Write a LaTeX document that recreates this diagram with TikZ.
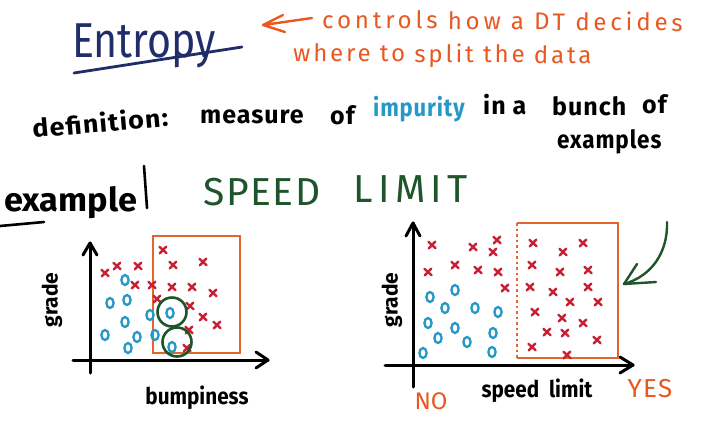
\documentclass[tikz,border=0pt]{standalone}
\usepackage{fontspec}
\setmainfont{Fira Sans}
\usetikzlibrary{calc}
\definecolor{navy}{RGB}{32,45,105}
\definecolor{hand}{RGB}{232,88,32}
\definecolor{boxo}{RGB}{228,100,45}
\definecolor{bluo}{RGB}{38,152,200}
\definecolor{redx}{RGB}{200,32,52}
\definecolor{grn}{RGB}{30,85,42}
\tikzset{
  fs/.style={font=\fontsize{#1}{#1}\selectfont},
  fsb/.style={font=\fontsize{#1}{#1}\selectfont\bfseries},
  ls/.style={execute at begin node={\addfontfeature{LetterSpace=#1}}},
  word/.style={fsb=25, ls=4, anchor=base west, inner sep=0},
  axisline/.style={line width=3pt, black, line cap=round},
  axistip/.style={line width=3pt, black, line cap=round, line join=round},
  regionbox/.style={line width=2.6pt, boxo},
  xm/.pic={\draw[redx, line width=2.4pt, line cap=round] (-3.6,-3.2) -- (3.6,3.2) (-3.2,3.4) -- (3.2,-3.4);},
  om/.pic={\draw[bluo, line width=2.3pt] (0,0) ellipse (3.6 and 5);},
  greenring/.style={grn, line width=2.6pt},
}
\begin{document}
\begin{tikzpicture}[x=1pt,y=-1pt]
\useasboundingbox[fill=white] (0,0) rectangle (721,424);

% title
\node[fs=49, navy, anchor=base west, xscale=0.84, inner sep=0] (title) at (72,57) {Entropy};
\coordinate (ulA) at (74,73);
\coordinate (ulB) at (242,47);
\draw[navy, line width=2.8pt, line cap=round] (ulA) -- (ulB);

% orange note
\node[fs=24, hand, ls=16, anchor=base west, inner sep=0, rotate=-0.5] (note1) at (322,28) {controls how a DT decides};
\node[fs=24, hand, ls=12, anchor=base west, inner sep=0, rotate=-0.5] (note2) at (293,61) {where to split the data};
\coordinate (arT) at (312,18);
\coordinate (arH) at (263,25);
\draw[hand, line width=2.4pt, line cap=round, line join=round] (arT) -- (arH)
  (283,15) -- (arH) -- (285,32);

% definition (words follow a rising line)
\node[word, rotate=5, xscale=1.08] (w1) at (33,138) {definition:};
\node[word] (w2) at (200,123) {measure};
\node[word] (w3) at (330,124) {of};
\node[word, bluo, xscale=0.88] (w4) at (373,116) {impurity};
\node[word] (w5) at (483,114) {in a};
\node[word] (w6) at (552,115) {bunch};
\node[word] (w7) at (642,113) {of};
\node[word, xscale=0.9] (w8) at (557,148) {examples};

% example
\node[fsb=33, anchor=base west, inner sep=0, xscale=1.04] (example) at (4,211) {example};
\draw[black, line width=2.6pt, line cap=round] (0,226) -- (44,222);
\draw[black, line width=2.6pt, line cap=round] (144,166) -- (147,208);

% speed limit
\node[fs=39, grn, ls=4, anchor=base west, inner sep=0] (speed) at (203,205) {SPEED};
\node[fs=39, grn, ls=14, anchor=base west, inner sep=0] (limit) at (353,202) {LIMIT};

% ---------------- left chart
\coordinate (LO1) at (90,373);
\coordinate (LY) at (90,243);
\coordinate (LO2) at (73,360);
\coordinate (LX) at (268,360);
\draw[axisline] (LO1) -- (LY);
\draw[axistip] (83,255) -- (LY) -- (97,255);
\draw[axisline] (LO2) -- (LX);
\draw[axistip] (256,352) -- (LX) -- (256,368);
\draw[regionbox] (153,236) rectangle (240,353);
\node[fsb=21, rotate=90, inner sep=0] (lgrade) at (52,300) {grade};
\node[fsb=23, inner sep=0, xscale=0.9] (bump) at (197,398) {bumpiness};

\foreach \x/\y in {163/250,117/266,105/273,138/266,173/265,203/262,135/285,152/285,172/287,192/287,213/293,157/299,190/306,203/317,217/325,189/330,187/348}
  \pic at (\x,\y) {xm};
\foreach \x/\y in {125/280,110/303,127/300,125/322,105/335,137/337,128/348,150/315,155/335,170/313,172/347}
  \pic at (\x,\y) {om};
\node[greenring, circle, draw, minimum size=29pt, inner sep=0] (ring1) at (172,312) {};
\node[greenring, circle, draw, minimum size=29pt, inner sep=0] (ring2) at (177,342) {};

% ---------------- right chart
\coordinate (RO1) at (413,387);
\coordinate (RY) at (413,223);
\coordinate (RO2) at (385,365);
\coordinate (RX) at (633,365);
\draw[axisline] (RO1) -- (RY);
\draw[axistip] (406,236) -- (RY) -- (420,236);
\draw[axisline] (RO2) -- (RX);
\draw[axistip] (620,357) -- (RX) -- (620,373);
\draw[regionbox] (517,223) -- (618,223) -- (618,358) -- (517,358);
\draw[boxo, line width=2.6pt, dash pattern=on 2.5pt off 3pt] (517,223) -- (517,358);
\node[fsb=21, rotate=90, inner sep=0] (rgrade) at (392,300) {grade};
\node[fsb=23, inner sep=0, xscale=0.9] (splim) at (537,391) {speed\ \ limit};
\node[fs=24, hand, inner sep=0] (no) at (431,401) {NO};
\node[fs=26, hand, ls=5, inner sep=0] (yes) at (650,389) {YES};

\foreach \x/\y in {432/245,473/247,497/240,493/252,428/272,455/265,478/270,498/272,505/288,533/243,563/252,583/243,532/265,560/272,588/270,530/287,553/292,588/287,570/302,598/302,535/312,562/318,583/323,547/332,565/333,597/340,532/347,567/355}
  \pic at (\x,\y) {xm};
\foreach \x/\y in {430/297,455/290,445/308,475/308,498/312,428/323,455/328,438/338,467/342,493/333,423/353,492/352}
  \pic at (\x,\y) {om};

% green arrow
\coordinate (gaT) at (667,222);
\coordinate (gaH) at (624,284);
\draw[grn, line width=2.4pt, line cap=round, line join=round]
  (gaT) .. controls (668,252) and (652,276) .. (gaH);
\draw[grn, line width=2.4pt, line cap=round, line join=round]
  (637,264) -- (gaH) -- (656,282);
\end{tikzpicture}
\end{document}
